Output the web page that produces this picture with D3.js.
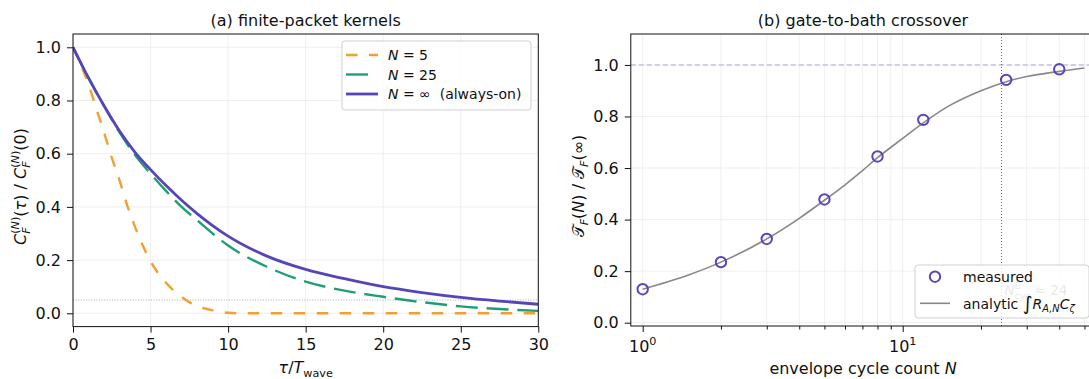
<!DOCTYPE html>
<html><head><meta charset="utf-8">
<script src="https://cdn.jsdelivr.net/npm/d3@7"></script>
<style>
body{margin:0;background:#fff}
text{font-family:"DejaVu Sans",sans-serif;fill:#111;white-space:pre}
</style>
</head><body>
<svg id="c" width="1089" height="379"></svg>
<script>
// ---------- data ----------
const tauA = [0,1,2,3,4,5,6,7,8,9,10,12.5,15,17.5,20,22.5,25,27.5,30];
const kernelInf = [1,0.885,0.78,0.685,0.605,0.54,0.48,0.425,0.375,0.33,0.29,0.215,0.165,0.13,0.10,0.078,0.06,0.046,0.034];
const kernel25  = [1,0.885,0.78,0.68,0.595,0.525,0.46,0.40,0.35,0.30,0.255,0.175,0.119,0.085,0.062,0.042,0.026,0.016,0.009];
const tauB = [0,0.5,1,1.5,2,2.5,3,3.5,4,4.5,5,5.5,6,6.5,7,7.5,8,8.5,9,9.5,10,11,12,15,20,25,30];
const kernel5 = [1,0.935,0.86,0.77,0.68,0.585,0.50,0.405,0.325,0.255,0.195,0.15,0.115,0.085,0.062,0.042,0.027,0.018,0.011,0.005,0.002,0,0,0,0,0,0];
const thresholdA = 0.05;

const measN = [1,2,3,5,8,12,25,40];
const measT = [0.13,0.235,0.325,0.478,0.645,0.787,0.942,0.983];
const anaN = [1,1.5,2,3,4,5,6,7,8,10,12,15,20,25,30,40,50];
const anaT = [0.13,0.185,0.235,0.325,0.405,0.475,0.535,0.59,0.64,0.715,0.775,0.84,0.9,0.935,0.955,0.975,0.988];
const nStar = 24;
const refLine = 1.0;

const xTicksA = [0,5,10,15,20,25,30];
const yTicks = [0,0.2,0.4,0.6,0.8,1.0];
const xMajorB = [1,10];
const xMinorB = [2,3,4,5,6,7,8,9,20,30,40,50];

// ---------- style ----------
const C_OR = "#f0a030", C_GR = "#1f9e77", C_PU = "#5446b6", C_GRID = "#ebebeb";
const FS = 16, FSL = 14;

const svg = d3.select("#c");
svg.append("rect").attr("width",1089).attr("height",379).attr("fill","#fff");

function mathText(parent, items, fs){
  const g = parent.append("g");
  let x = 0;
  function place(it, x0){
    const el = g.append("text").attr("x", x0).attr("y", (it.dy||0)*fs)
      .attr("font-size", fs*(it.sc||1))
      .attr("font-style", it.it ? "italic" : "normal")
      .style("fill", it.fill || null)
      .text(it.t);
    return el.node().getComputedTextLength();
  }
  items.forEach(it=>{
    if(it.stack){
      let w=0;
      it.stack.forEach(seq=>{ let xx=x; seq.forEach(s=>{ xx+=place(s,xx); }); w=Math.max(w,xx-x); });
      x+=w;
    } else x+=place(it,x);
  });
  return {g, w:x};
}

// ================= Panel (a) =================
const xL = d3.scaleLinear([0,30],[73,538.3]);
const yL = d3.scaleLinear([-0.05,1.05],[326.6,34]);
const pA = svg.append("g");
svg.append("clipPath").attr("id","clipA").append("rect")
  .attr("x",73).attr("y",34).attr("width",538.3-73).attr("height",326.6-34);

pA.append("g").selectAll("line").data(xTicksA).join("line")
  .attr("x1",d=>xL(d)).attr("x2",d=>xL(d)).attr("y1",34).attr("y2",326.6)
  .attr("stroke",C_GRID).attr("stroke-width",0.8);
pA.append("g").selectAll("line").data(yTicks).join("line")
  .attr("y1",d=>yL(d)).attr("y2",d=>yL(d)).attr("x1",73).attr("x2",538.3)
  .attr("stroke",C_GRID).attr("stroke-width",0.8);

pA.append("line").attr("x1",73).attr("x2",538.3).attr("y1",yL(thresholdA)).attr("y2",yL(thresholdA))
  .attr("stroke","#999").attr("stroke-width",0.8).attr("stroke-dasharray","1,1.6");

const lineA = (xs)=>d3.line().x((d,i)=>xL(xs[i])).y(d=>yL(d)).curve(d3.curveMonotoneX);
const cg = pA.append("g").attr("clip-path","url(#clipA)");
cg.append("path").attr("d",lineA(tauB)(kernel5)).attr("fill","none")
  .attr("stroke",C_OR).attr("stroke-width",2.4).attr("stroke-dasharray","11.5,11.5");
cg.append("path").attr("d",lineA(tauA)(kernel25)).attr("fill","none")
  .attr("stroke",C_GR).attr("stroke-width",2.4).attr("stroke-dasharray","22,8.8");
cg.append("path").attr("d",lineA(tauA)(kernelInf)).attr("fill","none")
  .attr("stroke",C_PU).attr("stroke-width",2.8);

const axA_x = pA.append("g").attr("transform","translate(0,326.6)")
  .call(d3.axisBottom(xL).tickValues(xTicksA).tickFormat(d3.format("d")).tickSize(6).tickPadding(6));
const axA_y = pA.append("g").attr("transform","translate(73,0)")
  .call(d3.axisLeft(yL).tickValues(yTicks).tickFormat(d3.format(".1f")).tickSize(6).tickPadding(6));
[axA_x,axA_y].forEach(a=>{a.select(".domain").remove(); a.selectAll("text").attr("font-size",FS).attr("font-family","DejaVu Sans").style("fill","#111"); a.selectAll("line").attr("stroke","#111");});
pA.append("rect").attr("x",73).attr("y",34).attr("width",538.3-73).attr("height",326.6-34)
  .attr("fill","none").attr("stroke","#111").attr("stroke-width",1);

pA.append("text").attr("x",(73+538.3)/2).attr("y",26).attr("text-anchor","middle").attr("font-size",FS).text("(a) finite-packet kernels");

{
  const m = mathText(pA,[{t:"τ",it:true},{t:"/"},{t:"T",it:true},{t:"wave",sc:0.7,dy:0.25}],FS);
  m.g.attr("transform",`translate(${(73+538.3)/2 - m.w/2},${373})`);
}
{
  const sup = [{t:"(",sc:0.7,dy:-0.42},{t:"N",it:true,sc:0.7,dy:-0.42},{t:")",sc:0.7,dy:-0.42}];
  const sub = [{t:"F",it:true,sc:0.7,dy:0.28}];
  const m = mathText(pA,[{t:"C",it:true},{stack:[sup,sub]},{t:"("},{t:"τ",it:true},{t:")"},{t:" / "},
    {t:"C",it:true},{stack:[sup,sub]},{t:"(0)"}],FS);
  m.g.attr("transform",`translate(26,${186.5}) rotate(-90) translate(${-m.w/2},0)`);
}

// legend (a)
{
  const lg = pA.append("g");
  lg.append("rect").attr("x",342).attr("y",41).attr("width",189).attr("height",69).attr("rx",3)
    .attr("fill","#fff").attr("fill-opacity",0.8).attr("stroke","#d0d0d0").attr("stroke-width",1);
  const ent = [
    {c:C_OR,da:"11.5,11.5",w:2.4,x2:378,lab:[{t:"N",it:true},{t:" = 5"}]},
    {c:C_GR,da:"22,8.8",w:2.4,x2:376,lab:[{t:"N",it:true},{t:" = 25"}]},
    {c:C_PU,da:null,w:2.8,x2:378,lab:[{t:"N",it:true},{t:" = ∞  (always-on)"}]}
  ];
  const ys=[55,74.5,94];
  ent.forEach((e,i)=>{
    lg.append("line").attr("x1",346).attr("x2",e.x2).attr("y1",ys[i]).attr("y2",ys[i])
      .attr("stroke",e.c).attr("stroke-width",e.w).attr("stroke-dasharray",e.da);
    const m = mathText(lg,e.lab,FSL);
    m.g.attr("transform",`translate(388,${ys[i]+5})`);
  });
}

// ================= Panel (b) =================
const xR = d3.scaleLog([0.9,55],[630.8,1095.2]);
const yR = d3.scaleLinear([-0.0128,1.12],[326,34]);
const pB = svg.append("g");
svg.append("clipPath").attr("id","clipB").append("rect")
  .attr("x",630.8).attr("y",34).attr("width",1095.2-630.8).attr("height",326-34);

pB.append("g").selectAll("line").data(xMajorB.concat(xMinorB)).join("line")
  .attr("x1",d=>xR(d)).attr("x2",d=>xR(d)).attr("y1",34).attr("y2",326)
  .attr("stroke",C_GRID).attr("stroke-width",0.8);
pB.append("g").selectAll("line").data(yTicks).join("line")
  .attr("y1",d=>yR(d)).attr("y2",d=>yR(d)).attr("x1",630.8).attr("x2",1095.2)
  .attr("stroke",C_GRID).attr("stroke-width",0.8);

const cb = pB.append("g").attr("clip-path","url(#clipB)");
cb.append("line").attr("x1",630.8).attr("x2",1095.2).attr("y1",yR(refLine)).attr("y2",yR(refLine))
  .attr("stroke","#a9a5da").attr("stroke-width",1.1).attr("stroke-dasharray","5,3");
cb.append("line").attr("x1",xR(nStar)).attr("x2",xR(nStar)).attr("y1",34).attr("y2",326)
  .attr("stroke","#555").attr("stroke-width",0.9).attr("stroke-dasharray","1,2");
{
  const m = mathText(cb,[{t:"N",it:true,fill:"#888"},{stack:[[{t:"E",sc:0.7,dy:-0.42,fill:"#888"}],[{t:"cyc",sc:0.7,dy:0.3,fill:"#888"}]]},{t:" ≈ 24",fill:"#888"}],13.4);
  m.g.attr("transform",`translate(${xR(nStar)+3},${yR(0.107)})`);
}
cb.append("path").attr("d",d3.line().x((d,i)=>xR(anaN[i])).y(d=>yR(d)).curve(d3.curveMonotoneX)(anaT))
  .attr("fill","none").attr("stroke","#888").attr("stroke-width",1.6);
cb.append("g").selectAll("circle").data(measT).join("circle")
  .attr("cx",(d,i)=>xR(measN[i])).attr("cy",d=>yR(d)).attr("r",5.2)
  .attr("fill","none").attr("stroke","#5648bb").attr("stroke-width",2);

const axB_x = pB.append("g").attr("transform","translate(0,326)")
  .call(d3.axisBottom(xR).tickValues(xMajorB).tickFormat("").tickSize(6));
pB.append("g").attr("transform","translate(0,326)")
  .call(d3.axisBottom(xR).tickValues(xMinorB).tickFormat("").tickSize(3.5))
  .call(a=>{a.select(".domain").remove(); a.selectAll("line").attr("stroke","#111");});
xMajorB.forEach((v)=>{
  const t = pB.append("text").attr("x",xR(v)).attr("y",351.5).attr("text-anchor","middle").attr("font-size",FS);
  t.append("tspan").text("10");
  t.append("tspan").attr("dy",-6.5).attr("font-size",FS*0.7).text(String(Math.round(Math.log10(v))));
});
const axB_y = pB.append("g").attr("transform","translate(630.8,0)")
  .call(d3.axisLeft(yR).tickValues(yTicks).tickFormat(d3.format(".1f")).tickSize(6).tickPadding(6));
[axB_x,axB_y].forEach(a=>{a.select(".domain").remove(); a.selectAll("text").attr("font-size",FS).attr("font-family","DejaVu Sans").style("fill","#111"); a.selectAll("line").attr("stroke","#111");});
pB.append("rect").attr("x",630.8).attr("y",34).attr("width",1095.2-630.8).attr("height",326-34)
  .attr("fill","none").attr("stroke","#111").attr("stroke-width",1);

pB.append("text").attr("x",(630.8+1095.2)/2).attr("y",26).attr("text-anchor","middle").attr("font-size",FS).text("(b) gate-to-bath crossover");
{
  const m = mathText(pB,[{t:"envelope cycle count "},{t:"N",it:true}],FS);
  m.g.attr("transform",`translate(${863 - m.w/2},374)`);
}
{
  const m = mathText(pB,[{t:"𝒯"},{t:"F",it:true,sc:0.7,dy:0.28},{t:"("},{t:"N",it:true},{t:")"},{t:" / "},
    {t:"𝒯"},{t:"F",it:true,sc:0.7,dy:0.28},{t:"(∞)"}],FS);
  m.g.attr("transform",`translate(584,186) rotate(-90) translate(${-m.w/2},0)`);
}

// legend (b)
{
  const lg = pB.append("g");
  lg.append("rect").attr("x",915).attr("y",265).attr("width",174).attr("height",53).attr("rx",3)
    .attr("fill","#fff").attr("fill-opacity",0.8).attr("stroke","#d0d0d0").attr("stroke-width",1);
  lg.append("circle").attr("cx",935).attr("cy",276.7).attr("r",5.2).attr("fill","none").attr("stroke","#5648bb").attr("stroke-width",2);
  const m1 = mathText(lg,[{t:"measured"}],FSL); m1.g.attr("transform","translate(963,281.8)");
  lg.append("line").attr("x1",920).attr("x2",950).attr("y1",303.3).attr("y2",303.3).attr("stroke","#888").attr("stroke-width",1.6);
  const m2 = mathText(lg,[{t:"analytic "},{t:"∫",sc:1.35,dy:0.1},{t:"R",it:true},{t:"A,N",it:true,sc:0.7,dy:0.28},{t:"C",it:true},{t:"ζ",it:true,sc:0.7,dy:0.28}],FSL);
  m2.g.attr("transform","translate(963,308.5)");
}
</script>
</body></html>
